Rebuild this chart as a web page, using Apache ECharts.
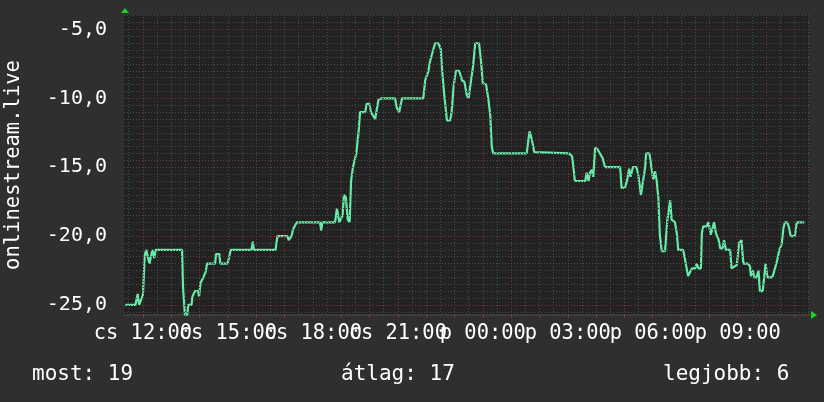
<!DOCTYPE html>
<html>
<head>
<meta charset="utf-8">
<script src="https://cdn.jsdelivr.net/npm/echarts@6/dist/echarts.min.js"></script>
<style>
html,body{margin:0;padding:0;background:#2f2f2f;}
#c{width:824px;height:402px;}
</style>
</head>
<body>
<div id="c"></div>
<script>
// ---- data (time = minutes since Thursday 00:00, value = -rank) ----
const times = [683,704,709,712,716,720,722,724,727,731,734,738,740,744,747,803,805,809,814,816,823,825,830,837,839,842,848,853,856,873,875,882,884,899,901,906,950,953,955,1001,1005,1026,1029,1032,1035,1038,1046,1095,1098,1100,1127,1131,1136,1140,1143,1146,1150,1154,1158,1161,1165,1172,1177,1180,1191,1194,1200,1203,1212,1216,1219,1226,1254,1258,1263,1269,1314,1318,1321,1325,1328,1334,1339,1346,1351,1354,1358,1364,1371,1374,1378,1383,1390,1396,1401,1406,1410,1413,1419,1424,1432,1436,1440,1447,1452,1456,1459,1462,1533,1539,1544,1549,1551,1623,1629,1632,1635,1657,1660,1664,1667,1671,1674,1678,1683,1688,1694,1699,1731,1734,1741,1746,1750,1753,1758,1766,1770,1775,1779,1784,1786,1793,1798,1801,1805,1808,1812,1815,1819,1826,1831,1837,1840,1847,1851,1854,1864,1866,1871,1875,1879,1883,1890,1893,1897,1902,1904,1907,1914,1918,1923,1927,1930,1934,1939,1943,1948,1951,1955,1964,1967,1971,1978,1983,1988,1992,2002,2006,2008,2012,2015,2020,2024,2027,2033,2036,2039,2043,2053,2057,2061,2064,2068,2073,2077,2080,2085,2089,2092,2101,2105,2121];
const values = [-25,-25,-24.2,-25,-25,-24.3,-24.3,-21.4,-21,-21,-22,-22,-21,-21.6,-21,-21,-23.7,-25.7,-25.7,-25,-25,-24.4,-24,-24,-24.4,-23.4,-23,-22.6,-22,-22,-21.3,-21.3,-22,-22,-21.8,-21,-21,-20.4,-21,-21,-20,-20,-20.3,-20.3,-20,-19.5,-19,-19,-19.6,-19,-19,-18,-19,-19,-18.5,-17,-17.2,-18.8,-19,-16,-15,-14,-12.4,-11,-11,-10.4,-10.4,-11,-11.5,-11.5,-10.1,-10,-10,-10.7,-11,-10,-10,-8.7,-8.7,-8,-7.35,-6.6,-6,-6,-6.45,-8,-9.6,-11.6,-11.6,-11,-9.2,-8,-8,-8.7,-8.8,-9.75,-10,-9.2,-7.8,-6,-6,-7.2,-8.9,-9,-10.1,-11.3,-13.5,-14,-14,-12.4,-13,-13.9,-14,-14,-14.2,-15,-16,-16,-15.4,-16,-15.4,-15.2,-15.7,-13.6,-13.7,-14,-14.35,-15,-15,-16.5,-16.5,-15.9,-15.1,-15.7,-15,-15,-15.7,-17,-17,-15,-14,-14,-15.2,-15.9,-15.3,-15.9,-17.25,-19.9,-21.1,-21.1,-18.8,-17.4,-18.8,-19,-19.8,-21,-21,-21.25,-22.2,-22.9,-22.9,-22.35,-22.35,-22,-22.35,-22.35,-19.8,-19.3,-19.3,-19,-19.9,-19.9,-19,-19.8,-20.2,-20.9,-20.9,-20.3,-21,-21,-22.35,-22.35,-22.1,-20.5,-20.3,-22,-22,-22.2,-22.9,-22.5,-23,-23,-22.5,-24,-24,-23,-22,-23,-23,-22.6,-22.6,-21.7,-21,-20.6,-19.4,-19,-19,-19.4,-20,-20,-19,-19];
const yTickValues = [-25,-20,-15,-10,-5];
const xLabelMinutes = [720,900,1080,1260,1440,1620,1800,1980];
const dayNames = ['cs','p'];
const axisTitle = 'onlinestream.live';
const legendNow = 19, legendAvg = 17, legendBest = 6;

const xMin = 680, xMax = 2131, yMin = -25.73, yMax = -3.95;

const seriesData = times.map((t,i)=>[t, values[i]]);

// grid lines
const minorY = [], majorY = [], minorX = [], majorX = [];
for (let v = -25.5; v <= -4; v += 0.5) { (Math.abs(v % 5) < 1e-9 ? majorY : minorY).push({yAxis: v}); }
for (let m = 690; m < xMax; m += 30) { (m % 60 === 0 ? majorX : minorX).push({xAxis: m}); }

const mono = 'DejaVu Sans Mono';
function fmtTime(v){ const d = Math.floor(v/1440); const h = Math.floor((v%1440)/60); const mm = v%60;
  return dayNames[d] + ' ' + String(h).padStart(2,'0') + ':' + String(mm).padStart(2,'0'); }
function xAxisDef(labelVals, main){
  return {
    type:'value', min:xMin, max:xMax, position:'bottom', offset:0,
    axisLine:{show:main, lineStyle:{color:'#3c3c3c', width:2}},
    axisTick:{show:main, customValues: majorX.map(d=>d.xAxis), length:3, lineStyle:{color:'#7a3434'}},
    splitLine:{show:false},
    axisLabel:{customValues: labelVals, color:'#ffffff', fontFamily:mono, fontSize:20.4, margin:9,
      hideOverlap:false, showMinLabel:true, showMaxLabel:true, formatter: fmtTime}
  };
}
const legendStyle = {color:'#ffffff', fontFamily:mono, fontSize:21, fontWeight:'normal'};
const chart = echarts.init(document.getElementById('c'), null, {renderer:'canvas'});
chart.setOption({
  animation: false,
  backgroundColor: '#2f2f2f',
  grid: {left:124, right:15, top:15, bottom:87, show:true, backgroundColor:'#222222', borderWidth:0,
         containLabel:false, outerBoundsMode:'none'},
  xAxis: [
    xAxisDef(xLabelMinutes.filter((v,i)=>i%2===0), true),
    xAxisDef(xLabelMinutes.filter((v,i)=>i%2===1), false)
  ],
  yAxis: {
    type:'value', min:yMin, max:yMax,
    name: axisTitle, nameLocation:'middle', nameGap:100, nameRotate:90,
    nameTextStyle:{color:'#ffffff', fontFamily:mono, fontSize:20.5},
    axisLine:{show:false}, axisTick:{show:false}, splitLine:{show:false},
    axisLabel:{customValues: yTickValues, color:'#ffffff', fontFamily:mono, fontSize:20, margin:17,
      hideOverlap:false, showMinLabel:true, showMaxLabel:true,
      formatter: v => v.toFixed(1).replace('.', ',')}
  },
  series: [
    {type:'line', data:[], silent:true, z:1,
      markLine:{silent:true, symbol:'none', label:{show:false}, animation:false,
        lineStyle:{color:'#4a4a4a', type:[1,2], width:1}, data: minorY.concat(minorX)}},
    {type:'line', data:[], silent:true, z:1,
      markLine:{silent:true, symbol:'none', label:{show:false}, animation:false,
        lineStyle:{color:'#7a3434', type:[1,2], width:1}, data: majorY.concat(majorX)}},
    {type:'line', data: seriesData, showSymbol:false, symbol:'none', z:3,
      lineStyle:{color:'#66eaa8', width:2.2}}
  ],
  title: [
    {text:'most: ' + legendNow, left:32, top:364, textStyle:legendStyle, padding:0},
    {text:'átlag: ' + legendAvg, left:341, top:364, textStyle:legendStyle, padding:0},
    {text:'legjobb: ' + legendBest, left:663, top:364, textStyle:legendStyle, padding:0}
  ],
  graphic: [
    {type:'polygon', shape:{points:[[121,13],[129,13],[125,8]]}, style:{fill:'#1ed41e'}},
    {type:'polygon', shape:{points:[[811,311],[811,319],[817,315]]}, style:{fill:'#1ed41e'}}
  ]
});
</script>
</body>
</html>
